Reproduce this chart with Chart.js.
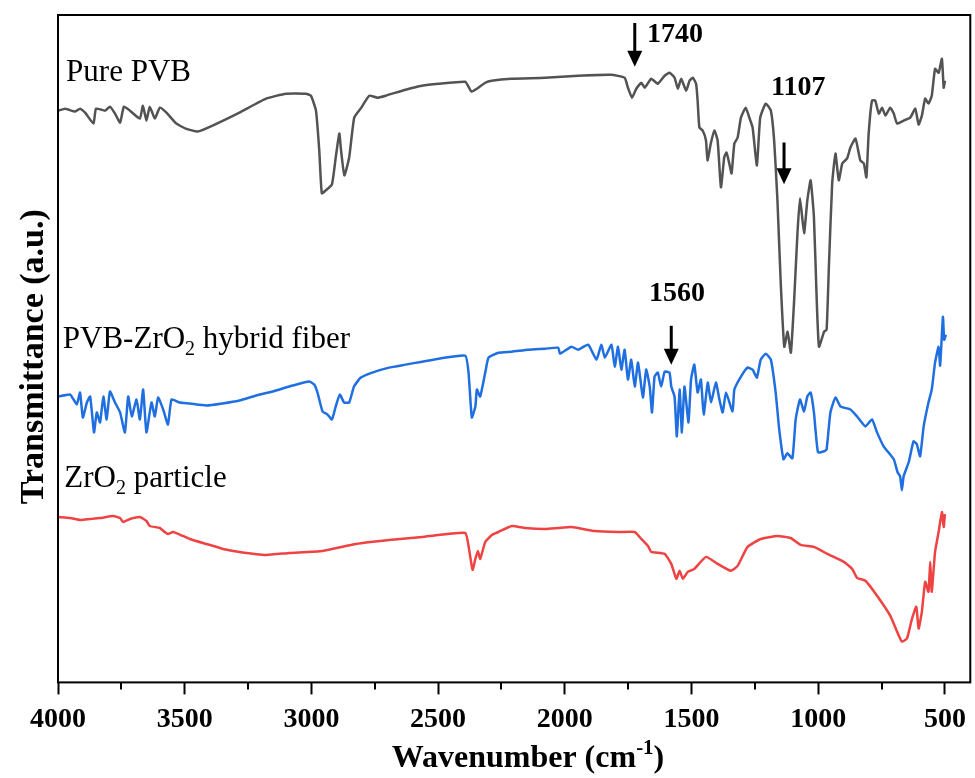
<!DOCTYPE html>
<html>
<head>
<meta charset="utf-8">
<title>FTIR spectra</title>
<script src="https://cdn.jsdelivr.net/npm/chart.js@4.4.1/dist/chart.umd.min.js"></script>
<style>
  html, body { margin: 0; padding: 0; background: #fff; }
  #wrap { width: 975px; height: 778px; }
</style>
</head>
<body>
<div id="wrap"><canvas id="ftirChart" width="975" height="778"></canvas></div>
<script>
/* FTIR spectra: Pure PVB, PVB-ZrO2 hybrid fiber, ZrO2 particle
   Values (wavenumber in cm-1, transmittance in a.u., offset curves). */

const tickValues = [4000, 3500, 3000, 2500, 2000, 1500, 1000, 500];
const minorTickValues = [3750, 3250, 2750, 2250, 1750, 1250, 750];

const pvbWave = [3998, 3972, 3932, 3913, 3893, 3860, 3850, 3814, 3795, 3775,
    3755, 3740, 3716, 3677, 3665, 3651, 3638, 3618, 3598, 3572,
    3533, 3496, 3449, 3390, 3284, 3179, 3100, 3022, 3002, 2982,
    2969, 2959, 2943, 2919, 2904, 2890, 2883, 2870, 2851, 2831,
    2803, 2772, 2740, 2707, 2628, 2564, 2498, 2393, 2380, 2368,
    2341, 2314, 2289, 2211, 2078, 1947, 1818, 1764, 1751, 1735,
    1718, 1698, 1685, 1659, 1633, 1606, 1587, 1567, 1554, 1541,
    1521, 1508, 1495, 1482, 1476, 1469, 1456, 1443, 1437, 1424,
    1410, 1397, 1384, 1371, 1362, 1351, 1342, 1331, 1318, 1305,
    1286, 1272, 1259, 1242, 1229, 1207, 1187, 1174, 1161, 1148,
    1134, 1121, 1108, 1095, 1082, 1072, 1056, 1043, 1030, 1017,
    1006, 997, 977, 967, 958, 945, 932, 919, 905, 886,
    873, 853, 834, 820, 810, 801, 788, 775, 761, 748,
    735, 716, 702, 689, 663, 637, 617, 604, 591, 578,
    565, 552, 539, 525, 512, 505, 500];
const pvbT = [574, 576, 573, 576, 572, 561, 576, 574, 578, 571,
    562, 578, 574, 566, 579, 564, 578, 566, 577, 572,
    561, 556, 553, 559, 572, 586, 591, 591, 589, 574,
    534, 491, 494, 500, 527, 551, 534, 509, 527, 567,
    577, 589, 587, 589, 595, 599, 601, 603, 598, 593,
    597, 602, 604, 606, 607, 609, 610, 607, 597, 587,
    596, 602, 597, 606, 601, 609, 612, 607, 596, 606,
    594, 604, 607, 601, 584, 557, 554, 544, 524, 541,
    554, 544, 497, 527, 532, 521, 511, 541, 547, 567,
    577, 567, 557, 519, 567, 581, 574, 544, 484, 401,
    337, 352, 331, 384, 451, 486, 451, 484, 504, 467,
    384, 337, 352, 354, 417, 501, 531, 504, 521, 526,
    537, 546, 524, 521, 507, 551, 584, 584, 571, 577,
    569, 577, 571, 561, 564, 567, 576, 560, 569, 586,
    581, 589, 616, 612, 626, 597, 604];

const hybridWave = [3998, 3952, 3926, 3913, 3902, 3886, 3873, 3858, 3847, 3834,
    3821, 3808, 3795, 3775, 3755, 3736, 3723, 3709, 3690, 3677,
    3664, 3651, 3631, 3618, 3605, 3585, 3566, 3552, 3520, 3480,
    3415, 3351, 3284, 3218, 3153, 3074, 3009, 2989, 2976, 2956,
    2937, 2919, 2904, 2888, 2871, 2851, 2832, 2805, 2760, 2694,
    2629, 2563, 2498, 2393, 2380, 2367, 2353, 2347, 2334, 2314,
    2301, 2262, 2209, 2144, 2078, 2026, 2019, 1974, 1947, 1908,
    1875, 1856, 1842, 1816, 1803, 1790, 1777, 1764, 1751, 1738,
    1724, 1711, 1692, 1679, 1665, 1656, 1646, 1633, 1620, 1606,
    1587, 1580, 1567, 1558, 1547, 1538, 1528, 1512, 1502, 1489,
    1476, 1463, 1452, 1436, 1423, 1404, 1390, 1377, 1364, 1338,
    1331, 1305, 1279, 1259, 1242, 1227, 1207, 1187, 1168, 1154,
    1137, 1122, 1102, 1089, 1072, 1056, 1043, 1030, 1017, 1001,
    977, 967, 952, 932, 912, 873, 847, 814, 788, 768,
    742, 702, 687, 677, 670, 663, 643, 624, 611, 598,
    584, 565, 552, 539, 525, 519, 508, 503, 496];
const hybridT = [287, 289, 279, 291, 266, 281, 287, 251, 271, 261,
    287, 264, 292, 281, 271, 251, 287, 267, 284, 264,
    294, 251, 281, 267, 286, 274, 259, 284, 281, 280,
    278, 280, 283, 288, 292, 298, 302, 299, 291, 272,
    269, 264, 277, 289, 281, 281, 297, 306, 311, 316,
    319, 322, 325, 328, 311, 266, 277, 294, 287, 311,
    326, 331, 332, 334, 335, 336, 330, 337, 334, 339,
    324, 339, 326, 339, 317, 337, 314, 334, 304, 324,
    297, 321, 286, 314, 297, 271, 307, 311, 297, 312,
    311, 297, 287, 247, 294, 251, 297, 261, 304, 319,
    291, 304, 269, 301, 281, 301, 284, 271, 291, 272,
    294, 307, 316, 314, 306, 324, 330, 324, 291, 254,
    224, 230, 225, 264, 284, 272, 287, 291, 271, 231,
    232, 234, 271, 286, 277, 274, 267, 257, 264, 251,
    237, 224, 211, 207, 193, 207, 221, 242, 239, 227,
    257, 281, 294, 321, 337, 318, 367, 344, 349];

const zro2Wave = [3998, 3952, 3913, 3873, 3834, 3782, 3755, 3743, 3716, 3677,
    3651, 3638, 3598, 3579, 3566, 3546, 3507, 3480, 3415, 3349,
    3284, 3179, 3087, 2956, 2825, 2694, 2563, 2498, 2393, 2380,
    2364, 2353, 2343, 2334, 2314, 2288, 2262, 2209, 2157, 2078,
    2026, 1974, 1882, 1790, 1724, 1698, 1672, 1659, 1606, 1580,
    1560, 1547, 1534, 1515, 1489, 1443, 1397, 1345, 1318, 1279,
    1227, 1161, 1109, 1069, 1017, 964, 899, 866, 847, 814,
    768, 716, 689, 670, 650, 630, 613, 604, 591, 578,
    565, 558, 552, 539, 525, 512, 505, 500];
const zro2T = [166, 165, 163, 164, 165, 167, 165, 161, 164, 166,
    162, 157, 155, 151, 149, 151, 147, 144, 139, 134,
    131, 128, 130, 132, 139, 143, 146, 148, 150, 137,
    113, 124, 132, 124, 141, 148, 151, 157, 155, 154,
    155, 156, 152, 151, 151, 144, 137, 131, 129, 119,
    104, 112, 104, 111, 114, 126, 119, 112, 117, 136,
    144, 147, 145, 138, 136, 129, 121, 114, 105, 102,
    87, 67, 51, 41, 44, 64, 76, 54, 71, 101,
    91, 121, 91, 131, 151, 171, 156, 169];

// curve captions (runs with subscripts)
const seriesCaptions = [
    [{ t: 'Pure PVB' }],
    [{ t: 'PVB-ZrO' }, { t: '2', sub: true }, { t: ' hybrid fiber' }],
    [{ t: 'ZrO' }, { t: '2', sub: true }, { t: ' particle' }]
];
const captionWave = [3968, 3981, 3975];
const captionT = [604, 336, 196];

// peak markers: label, wavenumber of arrow, arrow top / tip, label position
const peakLabels = ['1740', '1107', '1560'];
const peakArrowWave = [1724, 1135, 1580];
const peakArrowTop = [662, 542, 358];
const peakArrowTip = [618, 500, 319];
const peakTextWave = [1565, 1079, 1557];
const peakTextT = [643, 590, 383];

const SERIF = '"Liberation Serif", "Times New Roman", serif';

function toPoints(xs, ys) {
    return xs.map((x, i) => ({ x: x, y: ys[i] }));
}

function runFont(run, size, bold) {
    const s = run.sub || run.sup ? Math.round(size * 0.65) : size;
    return (bold ? 'bold ' : '') + s + 'px ' + SERIF;
}

function runsWidth(ctx, runs, size, bold) {
    return runs.reduce((w, r) => {
        ctx.font = runFont(r, size, bold);
        return w + ctx.measureText(r.t).width;
    }, 0);
}

function drawRuns(ctx, x, y, runs, size, bold) {
    let cx = x;
    runs.forEach(r => {
        ctx.font = runFont(r, size, bold);
        let dy = 0;
        if (r.sub) dy = size * 0.22;
        if (r.sup) dy = -size * 0.42;
        ctx.fillText(r.t, cx, y + dy);
        cx += ctx.measureText(r.t).width;
    });
}

/* ===== Frame, minor ticks, captions, arrows, axis titles ===== */
const decorations = {
    id: 'decorations',
    afterDatasetsDraw(chart) {
        const { ctx, chartArea: a, scales } = chart;
        const xs = scales.x, ys = scales.y;
        ctx.save();

        // frame
        ctx.strokeStyle = '#000';
        ctx.lineWidth = 2;
        ctx.strokeRect(a.left, a.top, a.right - a.left, a.bottom - a.top);

        // minor ticks below the axis
        ctx.beginPath();
        minorTickValues.forEach(v => {
            const px = Math.round(xs.getPixelForValue(v));
            ctx.moveTo(px, a.bottom);
            ctx.lineTo(px, a.bottom + 7);
        });
        ctx.stroke();

        ctx.fillStyle = '#000';
        ctx.textBaseline = 'alphabetic';
        ctx.textAlign = 'left';

        // curve captions
        seriesCaptions.forEach((runs, i) => {
            drawRuns(ctx, xs.getPixelForValue(captionWave[i]), ys.getPixelForValue(captionT[i]), runs, 31, false);
        });

        // peak arrows and labels
        peakLabels.forEach((label, i) => {
            const px = xs.getPixelForValue(peakArrowWave[i]);
            const top = ys.getPixelForValue(peakArrowTop[i]);
            const tip = ys.getPixelForValue(peakArrowTip[i]);
            ctx.lineWidth = 3;
            ctx.beginPath();
            ctx.moveTo(px, top);
            ctx.lineTo(px, tip - 12);
            ctx.stroke();
            ctx.beginPath();
            ctx.moveTo(px - 7.5, tip - 16);
            ctx.lineTo(px + 7.5, tip - 16);
            ctx.lineTo(px, tip);
            ctx.closePath();
            ctx.fill();

            ctx.font = 'bold 28px ' + SERIF;
            ctx.textAlign = 'center';
            ctx.fillText(label, xs.getPixelForValue(peakTextWave[i]), ys.getPixelForValue(peakTextT[i]));
            ctx.textAlign = 'left';
        });

        // x title with superscript
        const xTitle = [{ t: 'Wavenumber (cm' }, { t: '-1', sup: true }, { t: ')' }];
        const w = runsWidth(ctx, xTitle, 32, true);
        drawRuns(ctx, 528 - w / 2, 767, xTitle, 32, true);

        // y title
        ctx.translate(43, (a.top + a.bottom) / 2 + 8);
        ctx.rotate(-Math.PI / 2);
        ctx.font = 'bold 34px ' + SERIF;
        ctx.textAlign = 'center';
        ctx.fillText('Transmittance (a.u.)', 0, 0);

        ctx.restore();
    }
};

function initFtirChart() {
    const ctx = document.getElementById('ftirChart');
    const lineStyle = { borderWidth: 2.5, pointRadius: 0, tension: 0.15, fill: false };

    new Chart(ctx, {
        type: 'line',
        data: {
            datasets: [
                Object.assign({ label: 'Pure PVB', data: toPoints(pvbWave, pvbT), borderColor: '#535353' }, lineStyle),
                Object.assign({ label: 'PVB-ZrO2 hybrid fiber', data: toPoints(hybridWave, hybridT), borderColor: '#1f6fe0' }, lineStyle),
                Object.assign({ label: 'ZrO2 particle', data: toPoints(zro2Wave, zro2T), borderColor: '#ef4343' }, lineStyle)
            ]
        },
        options: {
            responsive: false,
            animation: false,
            devicePixelRatio: 1,
            layout: { padding: { left: 58, right: 2, top: 15, bottom: 32 } },
            plugins: {
                legend: { display: false },
                tooltip: { enabled: false }
            },
            scales: {
                x: {
                    type: 'linear',
                    reverse: true,
                    min: 400,
                    max: 4000,
                    afterBuildTicks: (scale) => {
                        scale.ticks = tickValues.map(v => ({ value: v }));
                    },
                    border: { display: false },
                    grid: {
                        drawOnChartArea: false,
                        tickLength: 12,
                        tickWidth: 2,
                        tickColor: '#000'
                    },
                    ticks: {
                        autoSkip: false,
                        maxRotation: 0,
                        padding: 9,
                        color: '#000',
                        font: { family: SERIF, size: 28, weight: 'bold' },
                        callback: (v) => String(v)
                    }
                },
                y: {
                    display: false,
                    min: 0,
                    max: 670
                }
            }
        },
        plugins: [decorations]
    });
}

initFtirChart();
</script>
</body>
</html>
